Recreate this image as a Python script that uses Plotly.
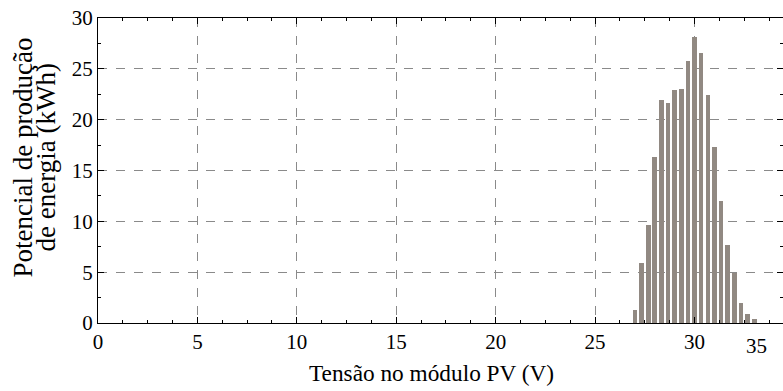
import plotly.graph_objects as go

# Data
voltage = [27.00, 27.33, 27.67, 28.00, 28.33, 28.67, 29.00, 29.33, 29.67, 30.00,
           30.33, 30.67, 31.00, 31.33, 31.67, 32.00, 32.33, 32.67, 33.00]
energy = [1.3, 5.9, 9.6, 16.3, 21.9, 21.6, 22.9, 23.05, 25.8, 28.1,
          26.6, 22.4, 17.3, 12.0, 7.7, 4.9, 2.0, 0.9, 0.35]

x_ticks = [0, 5, 10, 15, 20, 25, 30]
y_ticks = [0, 5, 10, 15, 20, 25, 30]

FONT = "Liberation Serif"
BAR = "#918982"
W, H = 783, 391
L, R, T, B = 98, 0, 18, 68
PW = W - L - R

fig = go.Figure()
fig.add_trace(go.Bar(x=voltage, y=energy, width=0.235, marker=dict(color=BAR, line=dict(width=0))))

fig.update_layout(
    width=W, height=H,
    margin=dict(l=L, r=R, t=T, b=B),
    plot_bgcolor="white", paper_bgcolor="white",
    font=dict(family=FONT, size=21, color="black"),
    showlegend=False,
    bargap=0,
)
fig.update_xaxes(
    range=[0, 34.45], tickvals=x_ticks, ticktext=[str(v) for v in x_ticks],
    ticks="inside", ticklen=6, tickcolor="black", tickwidth=1,
    minor=dict(ticks="inside", dtick=1.25, ticklen=3, tickcolor="black", showgrid=False),
    showline=True, linecolor="black", linewidth=1, mirror="ticks",
    showgrid=True, gridcolor="#8a8a8a", griddash="dash", gridwidth=1,
    zeroline=False, automargin=False,
    tickfont=dict(size=21, family=FONT),
)
fig.update_yaxes(
    range=[0, 30], tickvals=y_ticks,
    ticks="inside", ticklen=6, tickcolor="black", tickwidth=1,
    minor=dict(ticks="inside", dtick=2.5, ticklen=3, tickcolor="black", showgrid=False),
    showline=True, linecolor="black", linewidth=1, mirror="ticks",
    showgrid=True, gridcolor="#8a8a8a", griddash="dash", gridwidth=1,
    zeroline=False, automargin=False,
    tickfont=dict(size=21, family=FONT),
)

def px_to_paper_x(page_px):
    return (page_px - L) / PW

# extra "35" tick label at the cropped right edge
fig.add_annotation(x=px_to_paper_x(769), y=0, xref="paper", yref="paper", text="35", showarrow=False,
                   yanchor="top", yshift=-9, font=dict(size=21, family=FONT))
# x title
fig.add_annotation(x=px_to_paper_x(431), y=0, xref="paper", yref="paper", text="Tensão no módulo PV (V)",
                   showarrow=False, yanchor="middle", yshift=-50, font=dict(size=23.3, family=FONT))
# y title (two lines)
fig.add_annotation(x=px_to_paper_x(22), y=0.5, xref="paper", yref="paper", text="Potencial de produção",
                   showarrow=False, textangle=-90, xanchor="center", yanchor="middle",
                   yshift=13, font=dict(size=27, family=FONT))
fig.add_annotation(x=px_to_paper_x(45), y=0.5, xref="paper", yref="paper", text="de energia (kWh)",
                   showarrow=False, textangle=-90, xanchor="center", yanchor="middle",
                   yshift=13, font=dict(size=27, family=FONT))

fig.write_html("out.html", config={"displayModeBar": False},
               post_script="document.body.style.margin='0';document.body.style.overflow='hidden';")
